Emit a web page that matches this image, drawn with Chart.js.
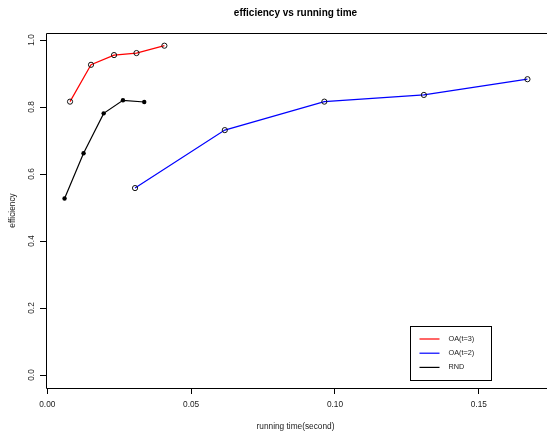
<!DOCTYPE html>
<html>
<head>
<meta charset="utf-8">
<script src="https://cdn.jsdelivr.net/npm/chart.js@4"></script>
<style>
  html, body { margin: 0; padding: 0; background: #fff; overflow: hidden; }
  #wrap { width: 550px; height: 431px; }
</style>
</head>
<body>
<div id="wrap"><canvas id="chart" width="550" height="431"></canvas></div>
<script>
// running time (s) / efficiency per method
const oa3Time = [0.0079, 0.0152, 0.0232, 0.0310, 0.0407];
const oa3Eff  = [0.816, 0.926, 0.955, 0.961, 0.983];
const oa2Time = [0.0305, 0.0617, 0.0963, 0.1309, 0.1669];
const oa2Eff  = [0.558, 0.731, 0.816, 0.836, 0.883];
const rndTime = [0.0060, 0.0126, 0.0196, 0.0263, 0.0337];
const rndEff  = [0.527, 0.662, 0.781, 0.820, 0.815];

const xTicks = [0, 0.05, 0.10, 0.15];
const yTicks = [0, 0.2, 0.4, 0.6, 0.8, 1.0];
const seriesNames = ['OA(t=3)', 'OA(t=2)', 'RND'];

const FONT = '"Liberation Sans", Arial, Helvetica, sans-serif';
const toPoints = (xs, ys) => xs.map((x, i) => ({ x: x, y: ys[i] }));

// box, title, axis titles, rotated y labels and the legend, R-style
const decorations = {
  id: 'decorations',
  afterDraw(chart) {
    const ctx = chart.ctx;
    const a = chart.chartArea;
    const yScale = chart.scales.y;
    ctx.save();

    ctx.strokeStyle = '#000';
    ctx.lineWidth = 1;
    ctx.beginPath();
    ctx.moveTo(a.right + 5, Math.round(a.top) + 0.5);
    ctx.lineTo(Math.round(a.left) + 0.5, Math.round(a.top) + 0.5);
    ctx.lineTo(Math.round(a.left) + 0.5, Math.round(a.bottom) + 0.5);
    ctx.lineTo(a.right + 5, Math.round(a.bottom) + 0.5);
    ctx.stroke();

    const cx = (a.left + a.right) / 2;
    ctx.fillStyle = '#000';
    ctx.textAlign = 'center';
    ctx.textBaseline = 'middle';
    ctx.font = 'bold 10px ' + FONT;
    ctx.fillText('efficiency vs running time', cx, 13);

    ctx.fillStyle = '#222';
    ctx.font = '8.3px ' + FONT;
    ctx.fillText('running time(second)', cx, 427);

    ctx.save();
    ctx.translate(12.5, (a.top + a.bottom) / 2);
    ctx.rotate(-Math.PI / 2);
    ctx.fillText('efficiency', 0, 0);
    ctx.restore();

    yTicks.forEach(v => {
      const py = yScale.getPixelForValue(v);
      ctx.save();
      ctx.translate(31.5, py);
      ctx.rotate(-Math.PI / 2);
      ctx.fillText(v.toFixed(1), 0, 0);
      ctx.restore();
    });

    // legend
    const bx = 410.5, by = 326.5, bw = 81, bh = 54;
    ctx.strokeStyle = '#000';
    ctx.strokeRect(bx, by, bw, bh);
    ctx.textAlign = 'left';
    ctx.font = '7.3px ' + FONT;
    chart.data.datasets.forEach((ds, i) => {
      const ly = by + 12.5 + i * 14.2;
      ctx.strokeStyle = ds.borderColor;
      ctx.lineWidth = 1.2;
      ctx.beginPath();
      ctx.moveTo(bx + 9, ly);
      ctx.lineTo(bx + 29, ly);
      ctx.stroke();
      ctx.fillStyle = '#222';
      ctx.fillText(ds.label, bx + 38, ly);
    });

    ctx.restore();
  }
};

new Chart(document.getElementById('chart'), {
  type: 'line',
  data: {
    datasets: [
      {
        label: seriesNames[0],
        data: toPoints(oa3Time, oa3Eff),
        borderColor: '#ff0000',
        borderWidth: 1.2,
        pointRadius: 2.6,
        pointBorderWidth: 1,
        pointBorderColor: '#111',
        pointBackgroundColor: 'rgba(0,0,0,0)'
      },
      {
        label: seriesNames[1],
        data: toPoints(oa2Time, oa2Eff),
        borderColor: '#0000ff',
        borderWidth: 1.2,
        pointRadius: 2.6,
        pointBorderWidth: 1,
        pointBorderColor: '#111',
        pointBackgroundColor: 'rgba(0,0,0,0)'
      },
      {
        label: seriesNames[2],
        data: toPoints(rndTime, rndEff),
        borderColor: '#000000',
        borderWidth: 1.2,
        pointRadius: 2.2,
        pointBorderWidth: 0,
        pointBackgroundColor: '#000'
      }
    ]
  },
  options: {
    responsive: false,
    animation: false,
    layout: { padding: { top: 33, right: 1, left: 0, bottom: 0 } },
    plugins: {
      legend: { display: false },
      title: { display: false },
      tooltip: { enabled: false }
    },
    scales: {
      x: {
        type: 'linear',
        min: -0.00045,
        max: 0.1730,
        afterBuildTicks: s => { s.ticks = xTicks.map(v => ({ value: v })); },
        afterFit: s => { s.height = 43; },
        grid: { drawOnChartArea: false, drawTicks: true, tickLength: 6, color: '#000' },
        border: { display: false },
        ticks: {
          padding: 6,
          color: '#222',
          font: { family: FONT, size: 8.3 },
          maxRotation: 0,
          callback: v => Number(v).toFixed(2)
        }
      },
      y: {
        type: 'linear',
        min: -0.0388,
        max: 1.0209,
        afterBuildTicks: s => { s.ticks = yTicks.map(v => ({ value: v })); },
        afterFit: s => { s.width = 46; },
        grid: { drawOnChartArea: false, drawTicks: true, tickLength: 6, color: '#000' },
        border: { display: false },
        ticks: { display: false }
      }
    }
  },
  plugins: [decorations]
});
</script>
</body>
</html>
